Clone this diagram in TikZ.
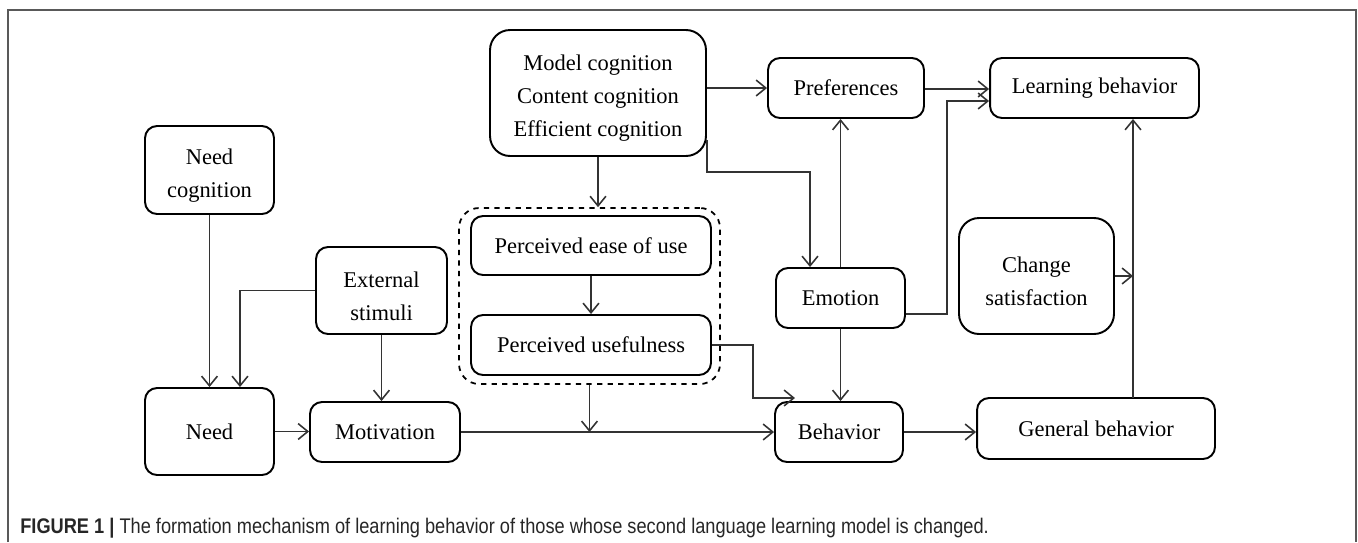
\documentclass[tikz,border=0pt]{standalone}
\usepackage{fontspec}
\setmainfont{Liberation Serif}
\newfontfamily\capfont[FakeStretch=0.86]{Liberation Sans}
\usepackage{tikz}
\usetikzlibrary{arrows.meta}
\newcommand{\topgap}{\rule{0pt}{15pt}}
\tikzset{
    every node/.style={inner sep=0pt, align=center,
    	font=\fontsize{12.8}{18.7}\selectfont}
}
\tikzset{
    blk/.style={draw, rounded corners=0.24cm, line width=1.1pt},
    bigblk/.style={blk, rounded corners=0.4cm}
}
\tikzset{
	arr/.style={-{Straight Barb[length=5.5pt,width=9pt]}, line width=0.9pt,
	color=black!80}
}

\begin{document}
\begin{tikzpicture}[x=0.02cm, y=-0.02cm]
	\useasboundingbox (0,0) rectangle (1358,542);
	\draw [line width=1.3pt, color=black!65] (8,542) -- (8,10) -- (1356,10) -- (1356,542);

	\node (model) [bigblk, minimum width=4.32cm, minimum height=2.52cm] at (598, 93)
		{\topgap Model cognition\\Content cognition\\Efficient cognition};
	\node (pref) [blk, minimum width=3.12cm, minimum height=1.2cm] at (846, 88) {Preferences};
	\node (learn) [blk, minimum width=4.18cm, minimum height=1.2cm] at (1094.5, 88) {Learning behavior};
	
	\node (needcog) [blk, minimum width=2.58cm, minimum height=1.76cm] at (209.5, 170) {\topgap Need\\cognition};
	\node (grp) [draw, dashed, rounded corners=0.4cm, line width=1pt,
		minimum width=5.22cm, minimum height=3.52cm] at (589.5, 296) {};
	\node (ease) [blk, minimum width=4.8cm, minimum height=1.18cm] at (591, 245.5) {Perceived ease of use};
	\node (useful) [blk, minimum width=4.8cm, minimum height=1.2cm] at (591, 345) {Perceived usefulness};
	\node (ext) [blk, minimum width=2.62cm, minimum height=1.74cm] at (381.5, 290.5) {\topgap External\\stimuli};
	\node (emotion) [blk, minimum width=2.58cm, minimum height=1.2cm] at (840.5, 298) {Emotion};
	\node (change) [bigblk, minimum width=3.1cm, minimum height=2.32cm] at (1036.5, 276) {\topgap Change\\satisfaction};
	
	\node (need) [blk, minimum width=2.58cm, minimum height=1.74cm] at (209.5, 431.5) {Need};
	\node (motiv) [blk, minimum width=3.0cm, minimum height=1.2cm] at (385, 432) {Motivation};
	\node (behav) [blk, minimum width=2.56cm, minimum height=1.2cm] at (839, 432) {Behavior};
	\node (general) [blk, minimum width=4.76cm, minimum height=1.22cm] at (1096, 428.5) {General behavior};

	\node (cap) [anchor=base west, font=\capfont\fontsize{12.05}{13}\selectfont, color=black!85]
		at (20, 533) {\textbf{FIGURE 1 |} The formation mechanism of learning behavior of those whose second language learning model is changed.};

	\coordinate (m1) at (810, 172);
	\coordinate (e1) at (947, 101);
	\coordinate (u1) at (753, 398);
	\coordinate (g1) at (1133, 398);

	\draw [arr] (model.east |- pref.west) -- (pref.west);
	\draw [arr] ([yshift=-0.02cm]pref.east) -- ([yshift=-0.02cm]learn.west);
	\draw [arr] ([yshift=-0.94cm]model.east) |- (m1) -- (m1 |- emotion.north);
	\draw [arr] ([yshift=-0.32cm]emotion.east) -| (e1) -- (e1 -| learn.west);
	\draw [arr] (emotion.north) -- (emotion.north |- pref.south);
	\draw [arr] (emotion.south) -- (emotion.south |- behav.north);
	\draw [arr] (model.south) -- (model.south |- grp.north);
	\draw [arr] (ease.south) -- (useful.north);
	\draw [arr] (grp.south) -- (grp.south |- motiv.east);
	\draw [arr] (useful.east) -| (u1) -- ++(42,0);
	\draw [arr] (needcog.south) -- (need.north);
	\draw [arr] (ext.west) -| ([xshift=0.61cm]need.north);
	\draw [arr] (ext.south) -- (ext.south |- motiv.north);
	\draw [arr] (need.east) -- (need.east -| motiv.west);
	\draw [arr] (motiv.east) -- (behav.west);
	\draw [arr] (behav.east) -- (behav.east -| general.west);
	\draw [arr] (g1) -- (g1 |- learn.south);
	\draw [arr] (change.east) -- (change.east -| g1);
\end{tikzpicture}
\end{document}
